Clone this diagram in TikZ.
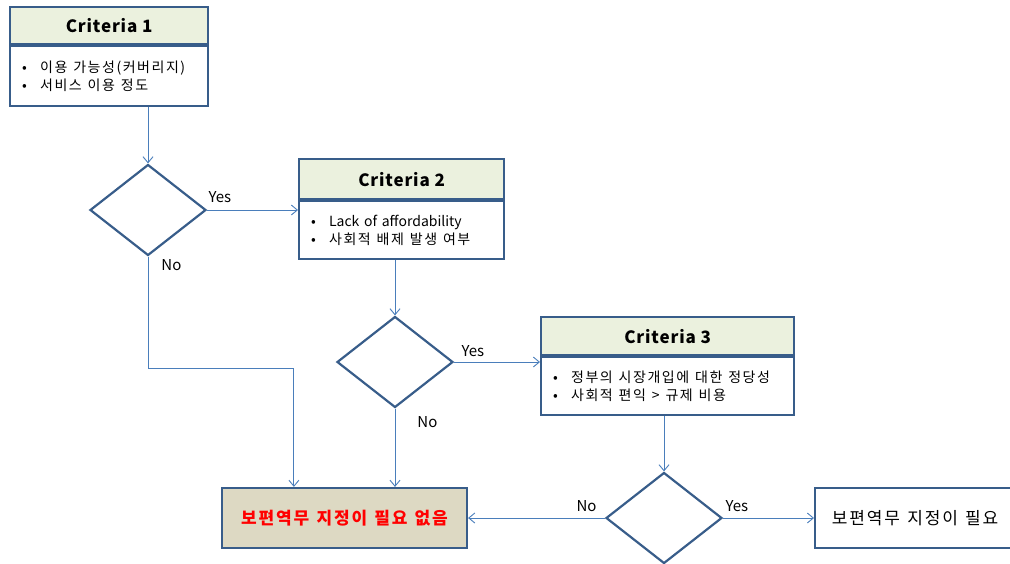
\documentclass[tikz,border=0pt]{standalone}
\usepackage{fontspec}
\setmainfont{Noto Sans CJK KR}
\usepackage{tikz}
\usetikzlibrary{arrows.meta}
\usetikzlibrary{positioning}
\usetikzlibrary{shapes.geometric}
\definecolor{boxblue}{RGB}{56, 93, 138}
\definecolor{linkblue}{RGB}{74, 126, 187}
\definecolor{hdrgreen}{RGB}{235, 241, 222}
\definecolor{nofill}{RGB}{221, 217, 195}
\newcommand{\itm}{\makebox[18pt][l]{•}}
\newcommand{\ko}[1]{{\addfontfeatures{LetterSpace=11}\spaceskip=0.42em #1}}

\begin{document}
\begin{tikzpicture}[x=1pt,y=-1pt,
    hdr/.style={draw=boxblue,line width=2.2pt,fill=hdrgreen,inner sep=0pt,anchor=north west,
      font=\bfseries\fontsize{17}{18}\selectfont\addfontfeatures{LetterSpace=5}},
    bodybox/.style={draw=boxblue,line width=2.2pt,fill=white,inner xsep=12pt,inner ysep=0pt,
      align=left,font=\fontsize{14}{18}\selectfont},
    choice/.style={diamond,draw=boxblue,line width=2.2pt,minimum width=116pt,minimum height=91pt,inner sep=0pt},
    endbox/.style={draw=boxblue,line width=2.2pt,minimum height=60pt,inner sep=0pt,
      font=\fontsize{17}{20}\selectfont},
    link/.style={draw=linkblue,line width=0.9pt,-{Straight Barb[length=6pt,width=10pt]}},
    lbl/.style={font=\fontsize{15}{18}\selectfont,inner sep=1pt}]
  \clip (0,0) rectangle (1010,563);

  % criteria boxes
  \node[hdr,minimum width=198pt,minimum height=37pt] (c1h) at (9,6) {Criteria 1};
  \node[bodybox,text width=174pt,minimum height=60pt,below=0pt of c1h]
    (c1b) {\itm \ko{이용 가능성(커버리지)}\\ \itm \ko{서비스 이용 정도}};
  \node[hdr,minimum width=205pt,minimum height=40pt] (c2h) at (298,158) {Criteria 2};
  \node[bodybox,text width=181pt,minimum height=58pt,below=0pt of c2h]
    (c2b) {\itm Lack of affordability\\ \itm \ko{사회적 배제 발생 여부}};
  \node[hdr,minimum width=253pt,minimum height=38pt] (c3h) at (540,316) {Criteria 3};
  \node[bodybox,text width=229pt,minimum height=58pt,below=0pt of c3h]
    (c3b) {\itm \ko{정부의 시장개입에 대한 정당성}\\ \itm \ko{사회적 편익 > 규제 비용}};

  % decisions
  \node[choice] (d1) at (148,210) {};
  \node[choice] (d2) at (395,362) {};
  \node[choice] (d3) at (664,518) {};

  % outcomes
  \node[endbox,fill=nofill,minimum width=245pt,text=red,font=\bfseries\fontsize{17}{20}\selectfont]
    (nobox) at (344.5,518) {\ko{보편역무 지정이 필요 없음}};
  \node[endbox,fill=white,minimum width=200pt,anchor=west] (yesbox) at (814,518) {\ko{보편역무 지정이 필요}};

  \draw[link] (d1.north |- c1b.south) -- (d1.north);
  \draw[link] (d1.east) -- node[lbl,pos=0,anchor=south west,xshift=0pt,yshift=6pt] {Yes} (c2b.west |- d1.east);
  \draw[link] (d1.south) -- node[lbl,pos=0,anchor=north west,xshift=12pt,yshift=-1pt] {No} (148,368) -| ([xshift=73pt]nobox.north west);

  \draw[link] (d2.north |- c2b.south) -- (d2.north);
  \draw[link] (d2.east) -- node[lbl,pos=0,anchor=south west,xshift=6pt,yshift=4pt] {Yes} (c3b.west |- d2.east);
  \draw[link] (d2.south) -- node[lbl,pos=0,anchor=north west,xshift=21pt,yshift=-6pt] {No} (d2.south |- nobox.north);

  \draw[link] (d3.north |- c3b.south) -- (d3.north);
  \draw[link] (d3.west) -- node[lbl,pos=0,anchor=south east,xshift=-7pt,yshift=5pt] {No} (nobox.east);
  \draw[link] (d3.east) -- node[lbl,pos=0,anchor=south west,xshift=1pt,yshift=5pt] {Yes} (yesbox.west);
\end{tikzpicture}
\end{document}
